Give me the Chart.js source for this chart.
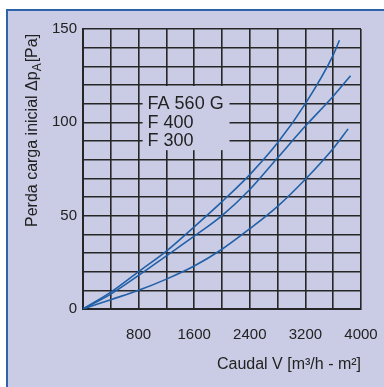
<!DOCTYPE html>
<html>
<head>
<meta charset="utf-8">
<script src="https://cdn.jsdelivr.net/npm/chart.js@4.4.1/dist/chart.umd.min.js"></script>
<style>
  html, body { margin: 0; padding: 0; background: #ffffff; width: 384px; height: 387px; overflow: hidden; }
  #frame { position: absolute; left: 6px; top: 9px; width: 400px; height: 400px;
           background: #c9cce4; border-top: 2px solid #2e62ab; border-left: 2px solid #2e62ab; }
  #c { position: absolute; left: 0; top: 0; }
</style>
</head>
<body>
<div id="frame"></div>
<canvas id="c" width="384" height="387"></canvas>
<script>
// ---- data ----
const seriesNames = ["FA 560 G", "F 400", "F 300"];
const xFA560G = [0, 400, 800, 1200, 1600, 2000, 2400, 2800, 3200, 3600, 3690];
const yFA560G = [0, 9, 20, 31, 44, 57.5, 72, 89, 110, 136, 144];
const xF400 = [0, 400, 800, 1200, 1600, 2000, 2400, 2800, 3200, 3600, 3850];
const yF400 = [0, 8, 18, 28.5, 39, 50, 64, 81, 98, 114, 125];
const xF300 = [0, 400, 800, 1200, 1600, 2000, 2400, 2800, 3200, 3600, 3815];
const yF300 = [0, 5, 10, 16, 23, 32, 43, 55, 69.5, 86, 96.5];
const xTickLabels = [800, 1600, 2400, 3200, 4000];
const yTickLabels = [0, 50, 100, 150];

const toPts = (xs, ys) => xs.map((x, i) => ({ x: x, y: ys[i] }));
const curveColor = '#2160a8';
const gridColor = '#262626';
const textColor = '#222222';
const bg = '#c9cce4';
const FONT = '"Liberation Sans", Arial, Helvetica, sans-serif';

const lineDs = (label, pts) => ({
  label: label, data: pts, showLine: true, borderColor: curveColor, borderWidth: 1.6,
  pointRadius: 0, fill: false, cubicInterpolationMode: 'monotone'
});

const overlay = {
  id: 'overlay',
  beforeDatasetsDraw(chart) {
    const ctx = chart.ctx, xs = chart.scales.x, ys = chart.scales.y;
    // legend box cut out of the grid
    const l = xs.getPixelForValue(800) + 4, r = xs.getPixelForValue(2000) + 7.5;
    const t = ys.getPixelForValue(120) + 1, b = ys.getPixelForValue(80) - 9.5;
    ctx.save();
    ctx.fillStyle = bg;
    ctx.fillRect(l, t, r - l, b - t);
    ctx.fillStyle = textColor;
    ctx.font = '18px ' + FONT;
    ctx.textAlign = 'left';
    ctx.textBaseline = 'middle';
    const rows = [110, 100, 90];
    seriesNames.forEach((n, i) => ctx.fillText(n, l + 5, ys.getPixelForValue(rows[i]) + 0.5));
    ctx.restore();
  },
  afterDraw(chart) {
    const ctx = chart.ctx, xs = chart.scales.x;
    ctx.save();
    ctx.fillStyle = textColor;
    // x title
    ctx.font = '16px ' + FONT;
    ctx.textAlign = 'right';
    ctx.textBaseline = 'alphabetic';
    ctx.fillText('Caudal V [m³/h - m²]', xs.getPixelForValue(4000), 369);
    // y title, rotated, with subscript
    ctx.translate(37, 227);
    ctx.rotate(-Math.PI / 2);
    ctx.textAlign = 'left';
    ctx.font = '16px ' + FONT;
    const p1 = 'Perda carga inicial \u0394p';
    ctx.fillText(p1, 0, 0);
    let w = ctx.measureText(p1).width;
    ctx.font = '12px ' + FONT;
    ctx.fillText('A', w, 4);
    w += ctx.measureText('A').width;
    ctx.font = '16px ' + FONT;
    ctx.fillText('[Pa]', w + 1, 0);
    ctx.restore();
  }
};

new Chart(document.getElementById('c'), {
  type: 'scatter',
  data: { datasets: [
    lineDs(seriesNames[0], toPts(xFA560G, yFA560G)),
    lineDs(seriesNames[1], toPts(xF400, yF400)),
    lineDs(seriesNames[2], toPts(xF300, yF300))
  ] },
  options: {
    responsive: false, animation: false, devicePixelRatio: 1,
    layout: { padding: { left: 0, top: 29, right: 23, bottom: 0 } },
    plugins: { legend: { display: false }, tooltip: { enabled: false } },
    scales: {
      x: {
        type: 'linear', min: 0, max: 4000,
        afterFit: s => { s.height = 78; s.paddingLeft = 0; s.paddingRight = 0; },
        grid: { color: gridColor, lineWidth: 1.6, drawTicks: false },
        border: { color: gridColor, width: 2 },
        ticks: {
          stepSize: 400, autoSkip: false, maxRotation: 0, padding: 17,
          color: textColor, font: { family: FONT, size: 15 },
          callback: v => xTickLabels.includes(v) ? String(v) : ''
        }
      },
      y: {
        type: 'linear', min: 0, max: 150,
        afterFit: s => { s.width = 83; s.paddingTop = 0; s.paddingBottom = 0; },
        grid: { color: gridColor, lineWidth: 1.6, drawTicks: false },
        border: { color: gridColor, width: 2 },
        ticks: {
          stepSize: 10, autoSkip: false, padding: 6,
          color: textColor, font: { family: FONT, size: 15 },
          callback: v => yTickLabels.includes(v) ? String(v) : ''
        }
      }
    }
  },
  plugins: [overlay]
});
</script>
</body>
</html>
